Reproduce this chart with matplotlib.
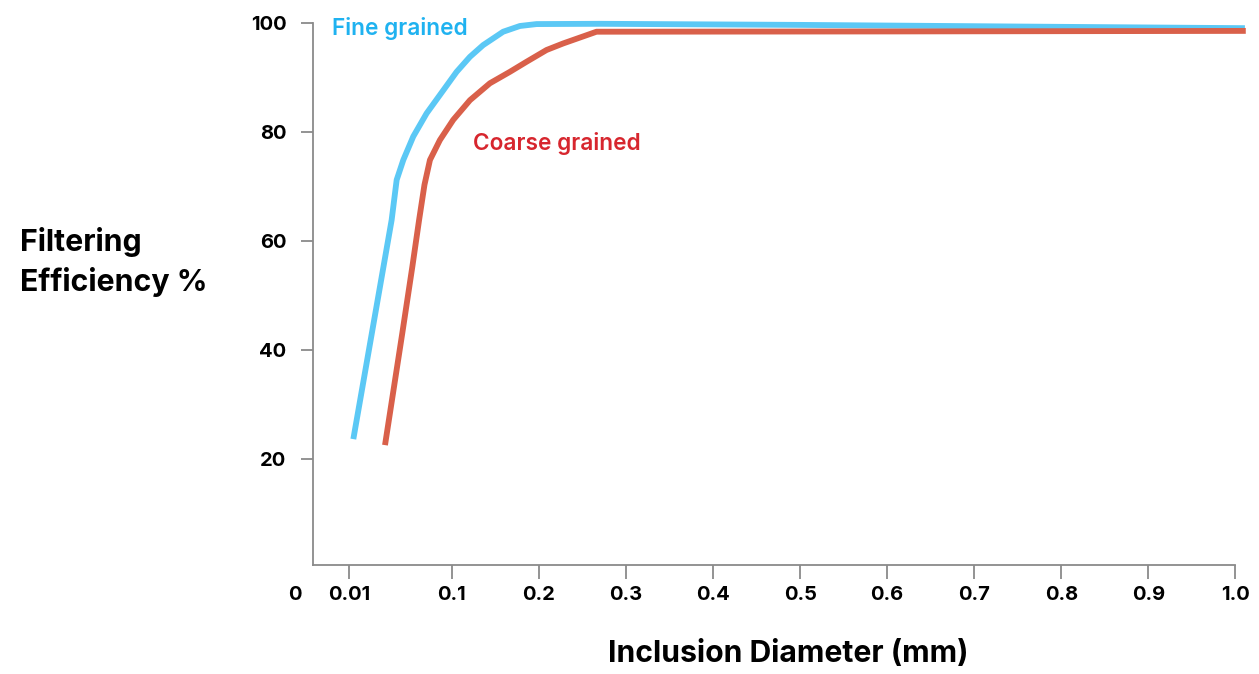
import numpy as np
import matplotlib.pyplot as plt
from matplotlib import transforms

plt.rcParams['font.family'] = ['Inter', 'DejaVu Sans']

# curves
fine_x = [0.0138, 0.0473, 0.0517, 0.0575, 0.0662, 0.0779, 0.0924, 0.1054,
          0.1207, 0.1359, 0.1589, 0.1781, 0.1972, 0.27, 0.5, 0.75, 1.011]
fine_y = [23.7, 63.85, 71.2, 74.85, 79.15, 83.4, 87.6, 91.0,
          93.75, 95.9, 98.35, 99.4, 99.75, 99.8, 99.6, 99.3, 99.0]

coarse_x = [0.0415, 0.0566, 0.0654, 0.0713, 0.0760, 0.0808, 0.0895, 0.1015,
            0.1207, 0.1436, 0.1666, 0.1858, 0.2087, 0.2278, 0.2661, 0.6, 1.012]
coarse_y = [22.6, 43.1, 55.3, 63.85, 70.3, 74.85, 78.5, 82.2,
            85.8, 88.9, 91.0, 92.85, 95.0, 96.2, 98.35, 98.4, 98.5]

x_ticks = [0.01, 0.1, 0.2, 0.3, 0.4, 0.5, 0.6, 0.7, 0.8, 0.9, 1.0]
x_ticklabels = ['0.01', '0.1', '0.2', '0.3', '0.4', '0.5', '0.6', '0.7', '0.8', '0.9', '1.0']
y_ticks = [20, 40, 60, 80, 100]

fine_line = '#5bc8f5'
coarse_line = '#d9604a'
fine_text = '#1fb2f0'
coarse_text = '#d7262e'
axis_grey = '#8a8a8a'

# stretched axis: 0 .. 0.01 .. 0.1 get their own room, then linear
knots_x = [-1.0, 0.0, 0.01, 0.1, 2.0]
knots_u = [-5105.0, 295.0, 349.0, 452.0, 452.0 + 1.9 * 871.0]


def fwd(x):
    return np.interp(x, knots_x, knots_u)


def inv(u):
    return np.interp(u, knots_u, knots_x)


fig = plt.figure(figsize=(12.59, 6.74), dpi=100)
ax = fig.add_axes([0.2486, 0.1613, 0.9812 - 0.2486, 0.9663 - 0.1613])
ax.set_xscale('function', functions=(fwd, inv))

ax.plot(fine_x, fine_y, color=fine_line, lw=4.2, solid_capstyle='butt',
        solid_joinstyle='round', clip_on=False)
ax.plot(coarse_x, coarse_y, color=coarse_line, lw=4.2, solid_capstyle='butt',
        solid_joinstyle='round', clip_on=False)

ax.set_xlim(0.00333, 1.0)
ax.set_ylim(0.58, 100)

for s in ['top', 'right']:
    ax.spines[s].set_visible(False)
for s in ['left', 'bottom']:
    ax.spines[s].set_color(axis_grey)
    ax.spines[s].set_linewidth(1.3)

ax.set_xticks(x_ticks)
ax.set_xticklabels(x_ticklabels)
ax.set_yticks(y_ticks)
ax.minorticks_off()
ax.tick_params(axis='x', length=10, width=1.3, color=axis_grey, pad=5,
               labelsize=14.5)
ax.tick_params(axis='y', length=9, width=1.3, color=axis_grey, pad=10,
               labelsize=14.5)
for lab in ax.get_xticklabels() + ax.get_yticklabels():
    lab.set_fontweight('bold')

# the "0" sits left of the axis, without a tick mark
trans = transforms.blended_transform_factory(ax.transData, ax.transAxes)
ax.annotate('0', xy=(0, 0), xycoords=trans, xytext=(0, -15), textcoords='offset points',
            ha='center', va='top', fontsize=14.5, fontweight='bold', annotation_clip=False)

ax.text(0.00685, 98.85, 'Fine grained', color=fine_text, fontsize=16.3,
        fontweight='semibold', va='center', ha='left')
ax.text(0.1241, 77.95, 'Coarse grained', color=coarse_text, fontsize=16.3,
        fontweight='semibold', va='center', ha='left')

fig.text(20 / 1259, 1 - 262 / 674, 'Filtering\nEfficiency %', fontsize=21.8,
         fontweight='bold', ha='left', va='center', linespacing=1.45)
fig.text(788 / 1259, 1 - 654 / 674, 'Inclusion Diameter (mm)', fontsize=21.7,
         fontweight='bold', ha='center', va='center')

fig.savefig('out.png', dpi=100)
